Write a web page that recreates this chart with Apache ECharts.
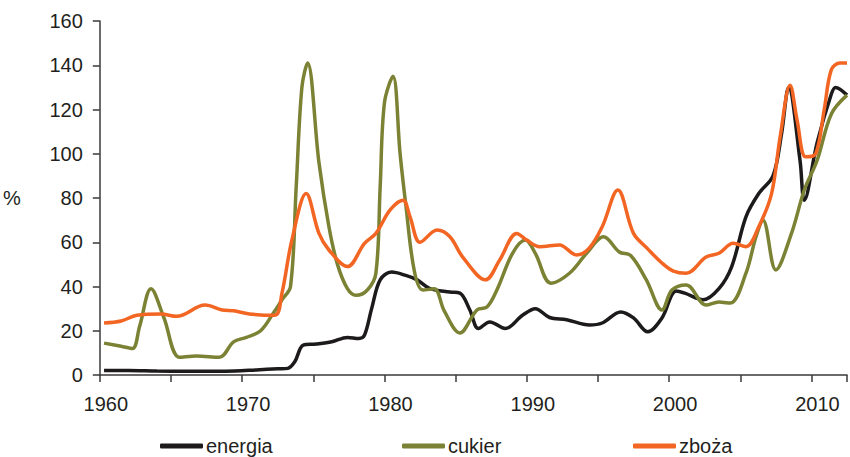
<!DOCTYPE html>
<html>
<head>
<meta charset="utf-8">
<script src="https://cdn.jsdelivr.net/npm/echarts@6/dist/echarts.min.js"></script>
<style>
  html, body { margin: 0; padding: 0; background: #fff; }
  #chart { width: 850px; height: 457px; }
</style>
</head>
<body>
<div id="chart"></div>
<script>
  // values (year, %)
  var energiaYears = [1960.3, 1962, 1964, 1966, 1968, 1969.5, 1971, 1972.5, 1973.2, 1973.7, 1974.3, 1975.2, 1976.3, 1977.4, 1978.2, 1978.6, 1979.1, 1979.7, 1980.5, 1981.5, 1982.3, 1983.2, 1984.6, 1985.3, 1986.0, 1986.6, 1987.4, 1988.5, 1989.7, 1990.6, 1991.6, 1992.8, 1994.4, 1995.3, 1996.6, 1997.5, 1998.5, 1999.5, 2000.5, 2001.1, 2002.4, 2003.5, 2004.4, 2005.4, 2006.3, 2007.3, 2007.9, 2008.4, 2009.2, 2009.5, 2010.4, 2011.4, 2011.7, 2012.5];
  var energiaValues = [2, 2, 1.8, 1.7, 1.7, 1.8, 2.3, 2.8, 3, 6, 13.5, 14, 15, 17, 16.5, 18, 30, 43, 46.5, 45, 43, 39, 37.5, 37, 29.4, 21, 24, 21, 27, 30, 26, 25, 22.6, 23.5, 28.5, 25.8, 19.5, 25.8, 38, 37, 34, 39, 49, 71.5, 82, 90, 109, 130, 97, 79, 105, 127, 130, 126.5];

  var cukierYears = [1960.3, 1961.5, 1962.3, 1962.8, 1963.6, 1964.5, 1965.6, 1966.8, 1968.4, 1969.4, 1970.3, 1971.3, 1972.2, 1972.8, 1973.4, 1973.8, 1974.2, 1974.6, 1975.4, 1976.1, 1976.7, 1977.4, 1978.0, 1978.8, 1979.4, 1979.7, 1980.0, 1980.6, 1981.1, 1981.5, 1982.1, 1982.7, 1983.5, 1984.2, 1985.3, 1986.5, 1987.2, 1987.9, 1989.0, 1989.9, 1990.6, 1991.7, 1993.0, 1994.2, 1995.4, 1996.5, 1997.3, 1998.4, 1999.5, 2000.2, 2001.2, 2002.6, 2003.5, 2004.3, 2005.4, 2006.1, 2006.6, 2007.5, 2008.6, 2009.5, 2010.4, 2011.4, 2012.5];
  var cukierValues = [14.4, 13, 12, 22, 39, 26, 8, 8.6, 8, 15, 17, 20, 28, 34, 40, 85, 130, 141, 96, 67, 50, 39, 36, 38.4, 46, 85, 123, 135, 100, 77, 47, 38.4, 39, 29, 19, 29.4, 30.7, 38.4, 55, 61, 55, 41.5, 46, 55, 62.5, 55.6, 54, 43, 29.4, 38.4, 40.7, 31.6, 33, 32.5, 46, 62.4, 70, 47.5, 64, 83.6, 97, 118, 126.5];

  var zbozaYears = [1960.3, 1961.5, 1962.6, 1964.3, 1965.4, 1967.4, 1968.6, 1969.4, 1970.5, 1972.3, 1972.8, 1973.5, 1974.5, 1975.4, 1976.1, 1977.4, 1978.6, 1979.4, 1980.4, 1981.3, 1981.8, 1982.5, 1983.7, 1984.6, 1985.5, 1987.1, 1988.1, 1989.3, 1990.0, 1990.9, 1992.3, 1993.5, 1994.4, 1995.3, 1996.4, 1997.5, 1998.5, 1999.5, 2000.3, 2001.2, 2002.6, 2003.5, 2004.5, 2005.4, 2006.3, 2007.2, 2007.8, 2008.5, 2009.0, 2009.6, 2010.3, 2010.9, 2011.4, 2012.0, 2012.5];
  var zbozaValues = [23.5, 24.4, 27, 27.6, 26.5, 31.6, 29.4, 29, 27.6, 27, 37, 61, 82, 64, 56.5, 49, 59.5, 64, 74.6, 79, 71.5, 60, 65.5, 62.5, 53.3, 43, 52, 64, 61, 58, 58.8, 54.2, 57.4, 67, 83.6, 64, 57, 50.6, 47, 46, 53.3, 55, 59.5, 58, 67, 82, 107.6, 131, 115, 98.6, 100, 120, 138, 141, 141];

  var font = 'Liberation Sans, Arial, sans-serif';
  var ink = '#231f20';
  var axisColor = '#3a3a3a';

  function pairs(xs, ys) {
    return xs.map(function(x, i) { return [x, ys[i]]; });
  }

  function legendAt(name, left) {
    return {
      data: [name],
      left: left,
      top: 436,
      padding: 0,
      icon: 'roundRect',
      itemWidth: 43,
      itemHeight: 5,
      textStyle: { color: ink, fontSize: 20, lineHeight: 18, fontFamily: font, padding: [0, 0, 0, -2] }
    };
  }

  var chart = echarts.init(document.getElementById('chart'), null, { renderer: 'svg' });
  chart.setOption({
    animation: false,
    backgroundColor: '#fff',
    grid: { left: 97, right: 0, top: 21, bottom: 82, containLabel: false },
    legend: [
      legendAt('energia', 160),
      legendAt('cukier', 402),
      legendAt('zboża', 633)
    ],
    xAxis: {
      type: 'value',
      min: 1960,
      max: 2012.5,
      interval: 5,
      splitLine: { show: false },
      axisLine: { onZero: false, lineStyle: { color: axisColor, width: 1.5 } },
      axisTick: { length: 7, lineStyle: { color: axisColor, width: 1.5 } },
      axisLabel: {
        color: ink,
        fontSize: 20,
        fontFamily: font,
        margin: 19,
        padding: [0, 0, 0, 12],
        formatter: function(v) { return v % 10 === 0 ? String(v) : ''; }
      }
    },
    yAxis: {
      type: 'value',
      min: 0,
      max: 160,
      interval: 20,
      name: '%',
      nameLocation: 'middle',
      nameRotate: 0,
      nameGap: 79,
      nameTextStyle: { color: ink, fontSize: 20, fontFamily: font },
      splitLine: { show: false },
      axisLine: { show: true, lineStyle: { color: axisColor, width: 1.5 } },
      axisTick: { show: true, length: 7, lineStyle: { color: axisColor, width: 1.5 } },
      axisLabel: { color: ink, fontSize: 20, fontFamily: font, margin: 17 }
    },
    series: [
      {
        name: 'energia',
        type: 'line',
        data: pairs(energiaYears, energiaValues),
        smooth: 0.35,
        showSymbol: false,
        lineStyle: { color: '#1c1a1b', width: 3.5 },
        itemStyle: { color: '#1c1a1b' }
      },
      {
        name: 'cukier',
        type: 'line',
        data: pairs(cukierYears, cukierValues),
        smooth: 0.35,
        showSymbol: false,
        lineStyle: { color: '#7b8234', width: 3.5 },
        itemStyle: { color: '#7b8234' }
      },
      {
        name: 'zboża',
        type: 'line',
        data: pairs(zbozaYears, zbozaValues),
        smooth: 0.35,
        showSymbol: false,
        lineStyle: { color: '#f26522', width: 3.5 },
        itemStyle: { color: '#f26522' }
      }
    ]
  });
  window.addEventListener('resize', function() { chart.resize(); });
</script>
</body>
</html>
